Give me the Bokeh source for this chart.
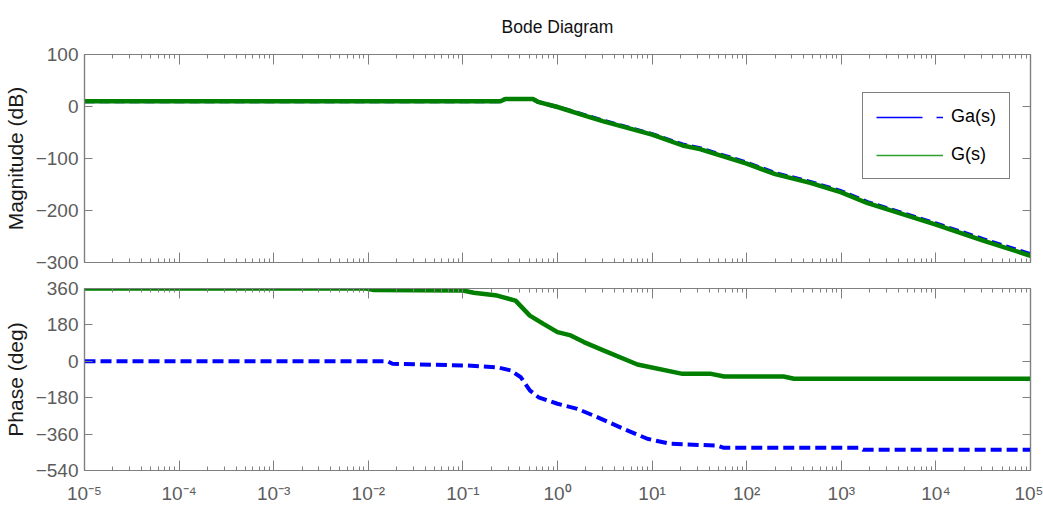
from bokeh.plotting import figure
from bokeh.layouts import column
from bokeh.models import (LinearAxis, LogAxis, FixedTicker, CustomJSTickFormatter,
                          Legend, LegendItem, ColumnDataSource, Range1d)
from bokeh.embed import file_html
from bokeh.resources import INLINE

# ---------------- data ----------------
freq_mag = [1e-5, 0.25, 0.28, 0.55, 0.62, 1, 1.9, 3, 10, 21, 32, 100, 200, 470,
            1000, 1900, 10000, 31600, 1e5]
mag_G = [10, 10, 14.5, 14.5, 9, -1, -17, -28, -54, -75, -82, -110, -130, -147,
         -165, -186, -227, -258, -287]
mag_Ga = [10, 10, 14.5, 14.5, 9, -1, -16, -27, -53, -73, -80, -108, -128, -145,
          -163, -184, -225, -255, -284]

freq_ph_G = [1e-5, 0.0095, 0.0115, 0.1, 0.13, 0.23, 0.36, 0.51, 0.71, 1, 1.38,
             1.9, 3.1, 7, 21, 42, 58, 245, 316, 1e5]
phase_G = [360, 360, 352, 350, 339, 325, 300, 226, 185, 144, 128, 95, 53, -16,
           -62, -62, -75, -75, -86, -86]

freq_ph_Ga = [1e-5, 0.016, 0.018, 0.112, 0.234, 0.32, 0.41, 0.51, 0.63, 1, 1.62,
              2.63, 5, 8.9, 15.5, 49, 57.5, 1580, 1700, 1e5]
phase_Ga = [0, 0, -12, -21, -30, -45, -79, -144, -178, -210, -235, -276, -334,
            -383, -408, -417, -428, -428, -438, -438]

x_ticks = [1e-5, 1e-4, 1e-3, 1e-2, 1e-1, 1, 10, 100, 1e3, 1e4, 1e5]
mag_ticks = [-300, -200, -100, 0, 100]
phase_ticks = [-540, -360, -180, 0, 180, 360]
series_names = ["Ga(s)", "G(s)"]
title_text = "Bode Diagram"
mag_label = "Magnitude (dB)"
phase_label = "Phase (deg)"

# ---------------- styling ----------------
FONT = "Liberation Sans"
AX_COL = "#7f7f7f"
TICK_COL = "#5c5c5c"
BLUE = "#0000ff"
GREEN = "#007f00"

minor = [m * d for d in x_ticks[:-1] for m in range(2, 10)]
sup_js = """
const e = Math.round(Math.log10(tick));
const sup = {'-':'\u207b','0':'\u2070','1':'\u00b9','2':'\u00b2','3':'\u00b3','4':'\u2074',
             '5':'\u2075','6':'\u2076','7':'\u2077','8':'\u2078','9':'\u2079'};
return '10' + String(e).split('').map(c => sup[c]).join('');
"""
blank_js = "return ''"


def style_axis(ax, major_in=8, minor_in=0):
    ax.axis_line_color = AX_COL
    ax.axis_line_width = 1.2
    ax.major_tick_line_color = AX_COL
    ax.minor_tick_line_color = AX_COL
    ax.major_tick_in = major_in
    ax.major_tick_out = 0
    ax.minor_tick_in = minor_in
    ax.minor_tick_out = 0
    ax.major_label_text_font = FONT
    ax.major_label_text_color = TICK_COL
    ax.major_label_text_font_size = "19px"
    ax.major_label_standoff = 6


def make_fig(height, top, bottom, yr, yticks, ylabel, show_x):
    p = figure(width=1043, height=height,
               x_range=Range1d(1e-5, 1e5), y_range=Range1d(*yr),
               output_backend="svg", toolbar_location=None,
               x_axis_location=None, y_axis_location=None,
               x_axis_type="log",
               min_border_left=84, min_border_right=13,
               min_border_top=top, min_border_bottom=bottom)
    p.grid.visible = False
    p.outline_line_color = AX_COL
    p.outline_line_width = 1.2
    xt = FixedTicker(ticks=x_ticks, minor_ticks=minor)
    yt = FixedTicker(ticks=yticks, minor_ticks=[])

    la = LinearAxis(ticker=yt, axis_label=ylabel)
    style_axis(la)
    la.axis_label_text_font = FONT
    la.axis_label_text_font_style = "normal"
    la.axis_label_text_font_size = "21px"
    la.axis_label_text_color = "#1a1a1a"
    la.axis_label_standoff = 6
    p.add_layout(la, "left")

    ra = LinearAxis(ticker=yt, formatter=CustomJSTickFormatter(code=blank_js))
    style_axis(ra)
    ra.major_label_text_font_size = "1px"
    ra.major_label_standoff = 0
    p.add_layout(ra, "right")

    ba = LogAxis(ticker=xt, formatter=CustomJSTickFormatter(code=sup_js if show_x else blank_js))
    style_axis(ba, major_in=10, minor_in=4)
    if show_x:
        ba.major_label_standoff = 12
    else:
        ba.major_label_text_font_size = "1px"
        ba.major_label_standoff = 0
    p.add_layout(ba, "below")

    ta = LogAxis(ticker=xt, formatter=CustomJSTickFormatter(code=blank_js))
    style_axis(ta, major_in=10, minor_in=4)
    ta.major_label_text_font_size = "1px"
    ta.major_label_standoff = 0
    p.add_layout(ta, "above")
    return p


# ---------------- magnitude ----------------
p1 = make_fig(275, 54, 13, (-300, 100), mag_ticks, mag_label, False)
p1.title.text = title_text
p1.title.align = "center"
p1.title.vertical_align = "top"
p1.title.text_font = FONT
p1.title.text_font_size = "17.5px"
p1.title.text_font_style = "normal"
p1.title.text_color = "#111111"
p1.title.standoff = 31

src_mg = ColumnDataSource(dict(f=freq_mag, ga=mag_Ga, g=mag_G))
p1.line("f", "ga", source=src_mg, line_color=BLUE, line_width=4, line_dash="10 5")
p1.line("f", "g", source=src_mg, line_color=GREEN, line_width=4.5)

# legend proxies (thin lines, as in the reference legend); they draw nothing in the frame
proxy = ColumnDataSource(dict(x=[float("nan")], y=[float("nan")]))
lg_ga = p1.line("x", "y", source=proxy, line_color=BLUE, line_width=1.5, line_dash="46 14")
lg_g = p1.line("x", "y", source=proxy, line_color="#2ca02c", line_width=1.5)
legend = Legend(items=[LegendItem(label=series_names[0], renderers=[lg_ga], index=0),
                       LegendItem(label=series_names[1], renderers=[lg_g], index=0)],
                location=(778, 83), orientation="vertical",
                glyph_width=67, glyph_height=20, label_height=20,
                label_standoff=8, padding=13, spacing=17, margin=0,
                label_text_font=FONT, label_text_font_size="18px",
                label_text_color="#000000",
                border_line_color="#000000", border_line_width=1.2,
                background_fill_color="white", background_fill_alpha=1)
p1.add_layout(legend, "center")

# ---------------- phase ----------------
p2 = make_fig(242, 13, 47, (-540, 360), phase_ticks, phase_label, True)

src_pg = ColumnDataSource(dict(f=freq_ph_G, p=phase_G))
src_pa = ColumnDataSource(dict(f=freq_ph_Ga, p=phase_Ga))
p2.line("f", "p", source=src_pa, line_color=BLUE, line_width=4, line_dash="11 5")
p2.line("f", "p", source=src_pg, line_color=GREEN, line_width=4.5)

layout = column(p1, p2, spacing=0)
open("out.html", "w").write(file_html(layout, INLINE))
